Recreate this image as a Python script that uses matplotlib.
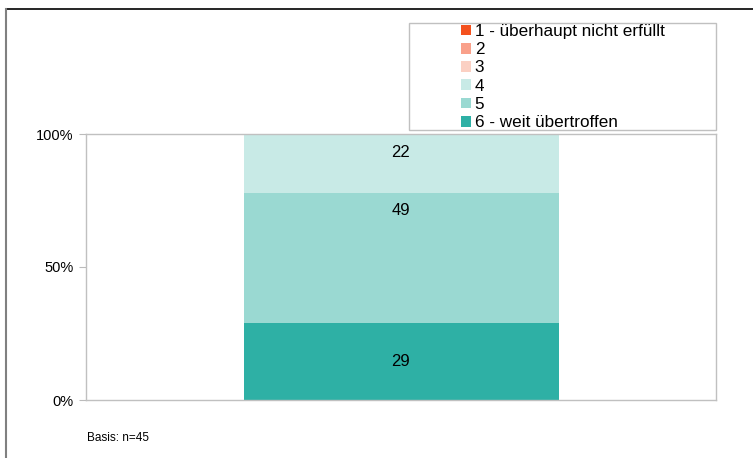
import matplotlib.pyplot as plt
from matplotlib.lines import Line2D
from matplotlib.patches import Rectangle

plt.rcParams['font.family'] = ['Liberation Sans', 'DejaVu Sans']

categories = ["1 - überhaupt nicht erfüllt", "2", "3", "4", "5", "6 - weit übertroffen"]
values = [0, 0, 0, 22, 49, 29]
colors = ["#F4511E", "#F9A08A", "#FBD0C3", "#C8EAE6", "#9AD9D2", "#2EB0A5"]
yticks = [0, 50, 100]
ytick_labels = ["0%", "50%", "100%"]
note = "Basis: n=45"

# where the value label sits inside each segment (fraction of segment height)
label_frac = [0.5, 0.5, 0.5, 0.69, 0.86, 0.5]

fig = plt.figure(figsize=(7.53, 4.58), dpi=100)
ax = fig.add_axes([86/753, 1 - 400/458, 630/753, 266/458])

# stack from 6 (bottom) up to 1 (top)
bottom = 0
handles = {}
for cat, val, col, fr in reversed(list(zip(categories, values, colors, label_frac))):
    b = ax.bar(0, val, width=0.5, bottom=bottom, color=col, label=cat)
    handles[cat] = b
    if val > 0:
        ax.text(0, bottom + val * fr, str(val), ha="center", va="center", fontsize=12, color="black")
    bottom += val

ax.set_xlim(-0.5, 0.5)
ax.set_ylim(0, 100)
ax.set_xticks([])
ax.set_yticks(yticks)
ax.set_yticklabels(ytick_labels, fontsize=10.5)
ax.tick_params(axis="y", length=5, color="#BBBBBB", pad=4)
for s in ax.spines.values():
    s.set_color("#C0C0C0")
    s.set_linewidth(1)

# legend box
fig.patches.append(Rectangle((409/753, 1 - 130/458), 307/753, 107/458, transform=fig.transFigure,
                             facecolor="white", edgecolor="#C0C0C0", linewidth=1))
fig.legend([handles[c] for c in categories], categories, loc="upper left",
           bbox_to_anchor=(461/753, 1 - 24/458), frameon=False, fontsize=12.3,
           handlelength=0.6, handleheight=0.6, handletextpad=0.2, labelspacing=0.19,
           borderpad=0, borderaxespad=0)

fig.text(87/753, 1 - 438/458, note, fontsize=8.5, va="center")

# page border lines
fig.add_artist(Line2D([6/753, 1], [1 - 9/458, 1 - 9/458], transform=fig.transFigure, color="black", linewidth=1.2))
fig.add_artist(Line2D([6/753, 6/753], [0, 1 - 9/458], transform=fig.transFigure, color="#808080", linewidth=1.5))

fig.savefig("out.png", dpi=100)
